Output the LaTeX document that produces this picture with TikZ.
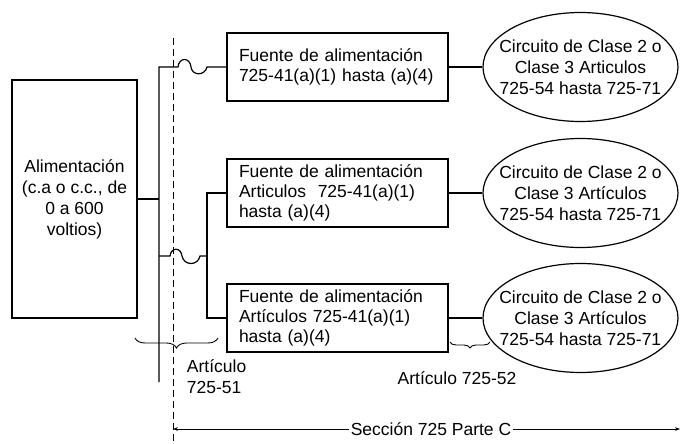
\documentclass[tikz,border=0pt]{standalone}
\usepackage{fontspec}
\setmainfont{Liberation Sans}
\usetikzlibrary{shapes.geometric,decorations.pathreplacing,arrows.meta}

\begin{document}
\begin{tikzpicture}[x=1pt, y=-1pt, line width=1.2pt,
	every node/.style={font=\fontsize{17.5}{21}\selectfont},
	srcbox/.style={draw, rectangle, minimum width=221pt, minimum height=68pt, text width=197pt, inner xsep=12pt, inner ysep=3pt, align=left, font=\fontsize{17.5}{20}\selectfont},
	circ/.style={draw, ellipse, minimum width=195pt, minimum height=109pt, inner sep=0pt},
	brc/.style={decorate, decoration={brace, mirror, amplitude=#1}, line width=0.9pt}]
	
	\useasboundingbox (0,0) rectangle (680,444);
	
	\node[draw, minimum width=125pt, minimum height=238pt, align=center] (L) at (74.5,199) {Alimentación\\(c.a o c.c., de\\0 a 600\\voltios)};
	
	\node[srcbox] (B1) at (337.5,67) {Fuente de alimentación\\725-41(a)(1) hasta (a)(4)};
	\node[srcbox] (B2) at (337.5,193) {Fuente de alimentación\\Articulos\ \ 725-41(a)(1)\\hasta (a)(4)};
	\node[srcbox] (B3) at (337.5,318) {Fuente de alimentación\\Artículos 725-41(a)(1)\\hasta (a)(4)};
	
	\node[circ, label={[name=C1t, align=center]center:Circuito de Clase 2 o\\Clase 3 Articulos\\725-54 hasta 725-71}] (C1) at (580.5,67) {};
	\node[circ, label={[name=C2t, align=center]center:Circuito de Clase 2 o\\Clase 3 Artículos\\725-54 hasta 725-71}] (C2) at (580.5,193) {};
	\node[circ, label={[name=C3t, align=center]center:Circuito de Clase 2 o\\Clase 3 Artículos\\725-54 hasta 725-71}] (C3) at (580.5,318) {};
	
	\draw (B1) -- (C1);
	\draw (B2) -- (C2);
	\draw (B3) -- (C3);
	
	% bus and jumps over the section line
	\coordinate (bustop) at (159,67);
	\coordinate (busbot) at (159,382);
	\coordinate (jmid) at (207,256);
	\draw (L.east) -- (L.east -| bustop);
	\draw (busbot) -- (bustop) -- (178,67) .. controls (179,57) and (190,57) .. (191,67) .. controls (192,76) and (205,76) .. (207,67) -- (B1.west);
	\draw (jmid -| bustop) -- (170,256) .. controls (171,247) and (181,247) .. (182,256) .. controls (184,266) and (198,266) .. (200,256) -- (jmid);
	\draw (B2.west) -| (jmid) |- (B3.west);
	
	\coordinate (secttop) at (173,38);
	\coordinate (sectbot) at (173,444);
	\draw[line width=0.8pt, dash pattern=on 7pt off 4pt] (secttop) -- (sectbot);
	
	% braces
	\coordinate (b51a) at (135,338);
	\coordinate (b51b) at (218,338);
	\draw[brc=10pt] (b51a) -- (b51b);
	\coordinate (b52a) at (450,342);
	\coordinate (b52b) at (490,342);
	\draw[brc=6pt] (b52a) -- (b52b);
	
	\node[anchor=west, align=left] (A51) at (183,376.5) {Artículo\\725-51};
	\node (A52) at (457,378) {Artículo 725-52};
	
	\node[inner sep=1pt] (S) at (431,429) {Sección 725 Parte C};
	\coordinate (sectL) at (173,429);
	\coordinate (sectR) at (680,429);
	\draw[line width=0.9pt, -{Stealth[length=5pt]}] (S.west) -- (sectL);
	\draw[line width=0.9pt, -{Stealth[length=5pt]}] (S.east) -- (sectR);
\end{tikzpicture}
\end{document}
